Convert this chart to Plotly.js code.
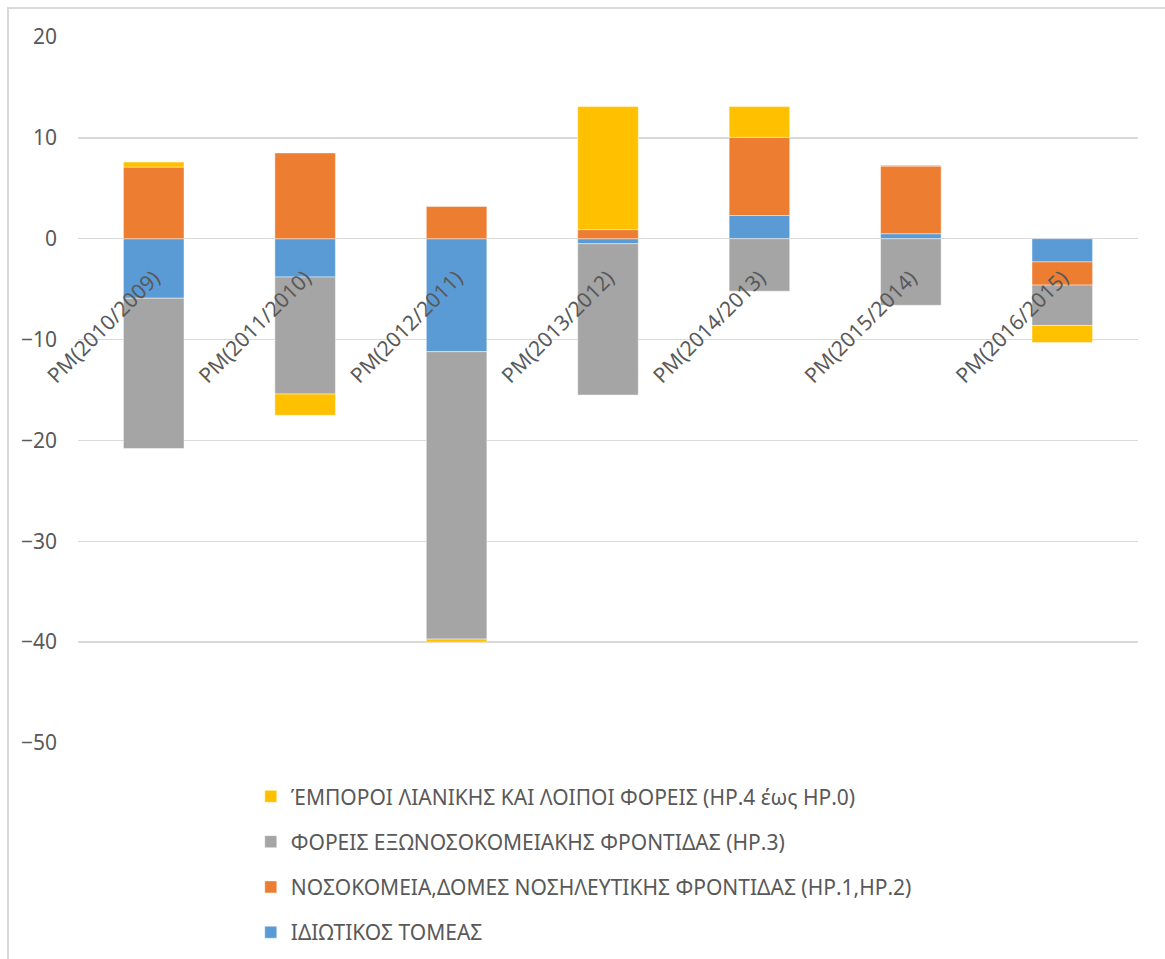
<!DOCTYPE html>
<html>
<head>
<meta charset="utf-8">
<script src="https://cdn.plot.ly/plotly-3.0.1.min.js"></script>
<style>
  html, body { margin: 0; padding: 0; background: #ffffff; }
  #frame { position: absolute; left: 7px; top: 7px; width: 1165px; height: 959px;
           border-left: 2px solid #d9d9d9; border-top: 2px solid #d9d9d9; box-sizing: border-box; }
  #chart { position: absolute; left: 0; top: 0; width: 1165px; height: 959px; }
</style>
</head>
<body>
<div id="frame"></div>
<div id="chart"></div>
<script>
// Annual change by financing sector
const categories = ['PM(2010/2009)', 'PM(2011/2010)', 'PM(2012/2011)', 'PM(2013/2012)',
                    'PM(2014/2013)', 'PM(2015/2014)', 'PM(2016/2015)'];

const privateSector = [-5.9, -3.8, -11.2, -0.5, 2.3, 0.5, -2.3];
const hospitals     = [7.1, 8.5, 3.2, 0.9, 7.75, 6.7, -2.3];
const outpatient    = [-14.9, -11.6, -28.5, -15.0, -5.2, -6.6, -4.0];
const retailers     = [0.5, -2.1, -0.3, 12.2, 3.05, 0.1, -1.7];

const seriesNames = [
  'ΙΔΙΩΤΙΚΟΣ ΤΟΜΕΑΣ',
  'ΝΟΣΟΚΟΜΕΙΑ,ΔΟΜΕΣ ΝΟΣΗΛΕΥΤΙΚΗΣ ΦΡΟΝΤΙΔΑΣ (ΗΡ.1,ΗΡ.2)',
  'ΦΟΡΕΙΣ ΕΞΩΝΟΣΟΚΟΜΕΙΑΚΗΣ ΦΡΟΝΤΙΔΑΣ (ΗΡ.3)',
  'ΈΜΠΟΡΟΙ ΛΙΑΝΙΚΗΣ ΚΑΙ ΛΟΙΠΟΙ ΦΟΡΕΙΣ (ΗΡ.4 έως ΗΡ.0)'
];
const seriesValues = [privateSector, hospitals, outpatient, retailers];
const seriesColors = ['#5b9bd5', '#ed7d31', '#a5a5a5', '#ffc000'];

const FONT = '"Noto Sans", "Open Sans", sans-serif';

// stacked from the zero line outward; legend lists the last series first
const traces = seriesValues.map((vals, i) => ({
  type: 'bar',
  name: seriesNames[i],
  x: categories,
  y: vals,
  legendgroup: 'g' + i,
  legendrank: 1000 - i,
  marker: { color: seriesColors[i], line: { color: 'rgba(255,255,255,0.6)', width: 0.75 } },
  hoverinfo: 'x+y+name'
}));

const layout = {
  width: 1165,
  height: 959,
  barmode: 'relative',
  bargap: 0.6,
  paper_bgcolor: 'rgba(0,0,0,0)',
  plot_bgcolor: 'rgba(0,0,0,0)',
  margin: { l: 78, r: 27, t: 37, b: 216, autoexpand: false },
  font: { family: FONT, color: '#595959', size: 21 },
  showlegend: true,
  legend: {
    x: 0.163, xanchor: 'left',
    y: -0.047, yanchor: 'top',
    traceorder: 'grouped',
    tracegroupgap: 15,
    font: { family: FONT, size: 21, color: '#595959' },
    bgcolor: 'rgba(0,0,0,0)'
  },
  xaxis: {
    type: 'category',
    anchor: 'free',
    position: 50 / 70,
    tickangle: -45,
    showgrid: false,
    showline: false,
    zeroline: false,
    ticks: '',
    ticklabelstandoff: 22,
    tickfont: { family: FONT, size: 21, color: '#595959' }
  },
  yaxis: {
    range: [-50, 20],
    dtick: 10,
    tick0: 0,
    showgrid: true,
    gridcolor: '#d9d9d9',
    gridwidth: 1.3,
    zeroline: true,
    zerolinecolor: '#d9d9d9',
    zerolinewidth: 1.3,
    showline: false,
    ticks: '',
    ticklabelstandoff: 20,
    tickfont: { family: FONT, size: 21, color: '#595959' }
  }
};

Plotly.newPlot('chart', traces, layout, { displayModeBar: false, staticPlot: true });
</script>
</body>
</html>
